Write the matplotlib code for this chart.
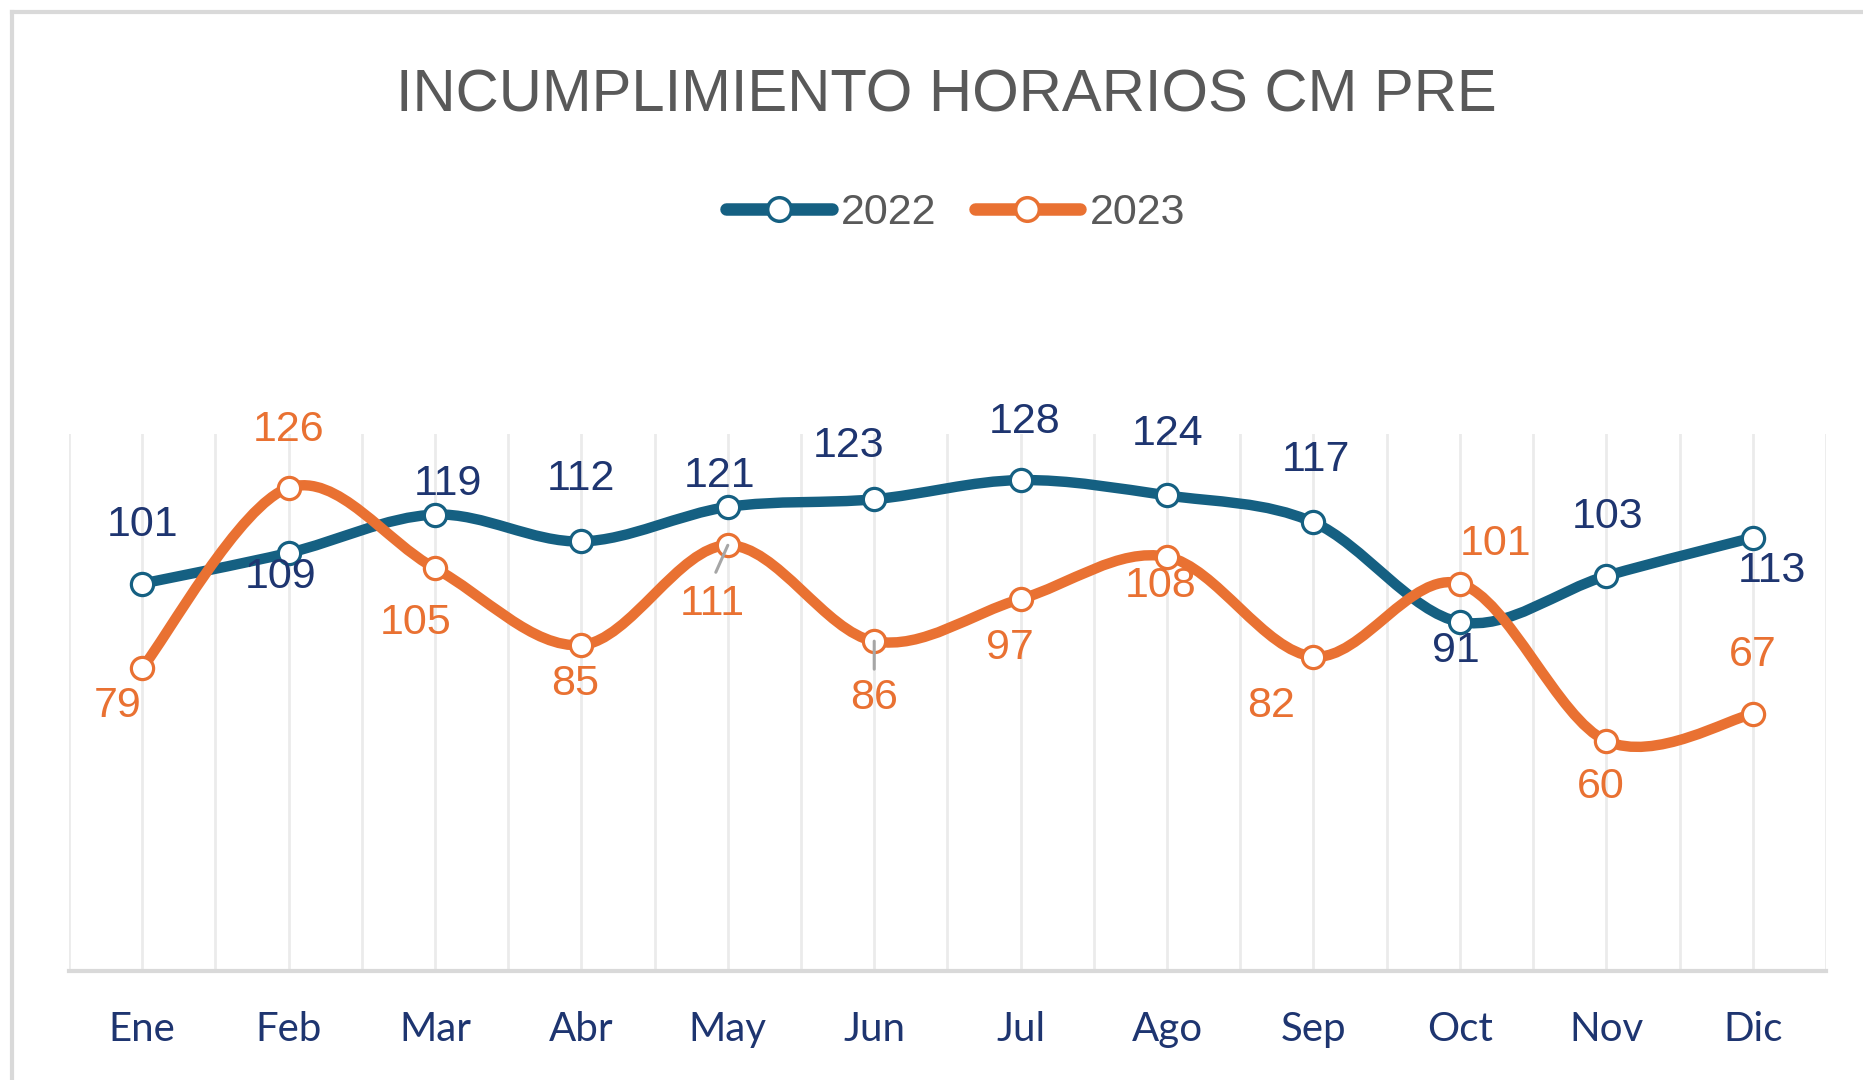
import numpy as np
import matplotlib
matplotlib.use("Agg")
import matplotlib.pyplot as plt
from matplotlib.path import Path
from matplotlib.patches import PathPatch
from matplotlib.lines import Line2D

months = ["Ene", "Feb", "Mar", "Abr", "May", "Jun", "Jul", "Ago", "Sep", "Oct", "Nov", "Dic"]
v2022 = [101, 109, 119, 112, 121, 123, 128, 124, 117, 91, 103, 113]
v2023 = [79, 126, 105, 85, 111, 86, 97, 108, 82, 101, 60, 67]

# label offsets in pixels (dx, dy)
off2022 = [(0, 59), (-8, -24), (13, 31), (0, 62), (-8, 31), (-26, 53),
           (4, 58), (1, 61), (2, 62), (-4, -29), (1, 59), (19, -33)]
off2023 = [(-25, -38), (0, 58), (-19, -55), (-6, -39), (-15, -59), (0, -57),
           (-11, -49), (-6, -29), (-42, -49), (36, 40), (-6, -46), (0, 59)]
# short grey leader lines on two 2023 labels: index -> end offset in pixels
leaders = {4: (-12, -27), 5: (0, -28)}

c22 = "#156082"
c23 = "#E97132"
navy = "#1E3570"
grey_txt = "#595959"


def smooth_path(xs, ys):
    # excel style smoothed line: bezier with 1/6 tangents
    n = len(xs)
    verts = [(xs[0], ys[0])]
    codes = [Path.MOVETO]
    for i in range(n - 1):
        a = i - 1 if i > 0 else i
        b = i + 2 if i + 2 < n else i + 1
        c1 = (xs[i] + (xs[i + 1] - xs[a]) / 6, ys[i] + (ys[i + 1] - ys[a]) / 6)
        c2 = (xs[i + 1] - (xs[b] - xs[i]) / 6, ys[i + 1] - (ys[b] - ys[i]) / 6)
        verts += [c1, c2, (xs[i + 1], ys[i + 1])]
        codes += [Path.CURVE4] * 3
    return Path(verts, codes)


fig = plt.figure(figsize=(18.63, 10.80), dpi=100)
ax = fig.add_axes([0.0370, 0.1009, 0.9431, 0.4972])

x = np.arange(len(months))
ax.set_xlim(-0.5, len(months) - 0.5)
ax.set_ylim(0, 140)

for gx in np.arange(-0.5, len(months), 0.5):
    ax.axvline(gx, color="#EBEBEB", lw=2, zorder=0)

for vals, col in [(v2022, c22), (v2023, c23)]:
    ax.add_patch(PathPatch(smooth_path(x, vals), facecolor="none", edgecolor=col,
                           lw=7.5, capstyle="round", joinstyle="round", zorder=2))
    ax.plot(x, vals, ls="none", marker="o", ms=16, mfc="white", mec=col, mew=2.3, zorder=3)

for i, v in enumerate(v2022):
    ax.annotate(str(v), (x[i], v), xytext=off2022[i], textcoords="offset pixels",
                ha="center", va="center", fontsize=31, color=navy,
                family="Liberation Sans", zorder=5)

for i, v in enumerate(v2023):
    ax.annotate(str(v), (x[i], v), xytext=off2023[i], textcoords="offset pixels",
                ha="center", va="center", fontsize=31, color=c23,
                family="Liberation Sans", zorder=5)

for i, end in leaders.items():
    ax.annotate("", (x[i], v2023[i]), xytext=end, textcoords="offset pixels",
                arrowprops=dict(arrowstyle="-", color="#A6A6A6", lw=2.2,
                                shrinkA=0, shrinkB=0), zorder=4)

for s in ["top", "left", "right"]:
    ax.spines[s].set_visible(False)
ax.spines["bottom"].set_color("#D9D9D9")
ax.spines["bottom"].set_linewidth(3)
ax.set_yticks([])
ax.set_xticks(x)
ax.set_xticklabels(months, fontsize=29, color=navy, family="Lato")
ax.tick_params(axis="x", length=0, pad=29)

fig.text(0.508, 0.9115, "INCUMPLIMIENTO HORARIOS CM PRE", ha="center", va="center",
         fontsize=43, color=grey_txt, family="Liberation Sans")

handles = [Line2D([], [], color=c22, lw=9, marker="o", ms=17, mfc="white", mec=c22, mew=2.5,
                  solid_capstyle="round"),
           Line2D([], [], color=c23, lw=9, marker="o", ms=17, mfc="white", mec=c23, mew=2.5,
                  solid_capstyle="round")]
leg = fig.legend(handles, ["2022", "2023"], loc="center", bbox_to_anchor=(0.513, 0.803),
                 ncol=2, frameon=False, handlelength=2.45, handletextpad=0.22,
                 columnspacing=0.88, prop={"family": "Liberation Sans", "size": 31})
for t in leg.get_texts():
    t.set_color(grey_txt)

# chart border (left and top visible)
fig.add_artist(Line2D([12 / 1863, 12 / 1863], [0, 1 - 12 / 1080], transform=fig.transFigure,
                      color="#D9D9D9", lw=3))
fig.add_artist(Line2D([12 / 1863, 1], [1 - 12 / 1080, 1 - 12 / 1080], transform=fig.transFigure,
                      color="#D9D9D9", lw=3))

fig.savefig("out.png", dpi=100)
